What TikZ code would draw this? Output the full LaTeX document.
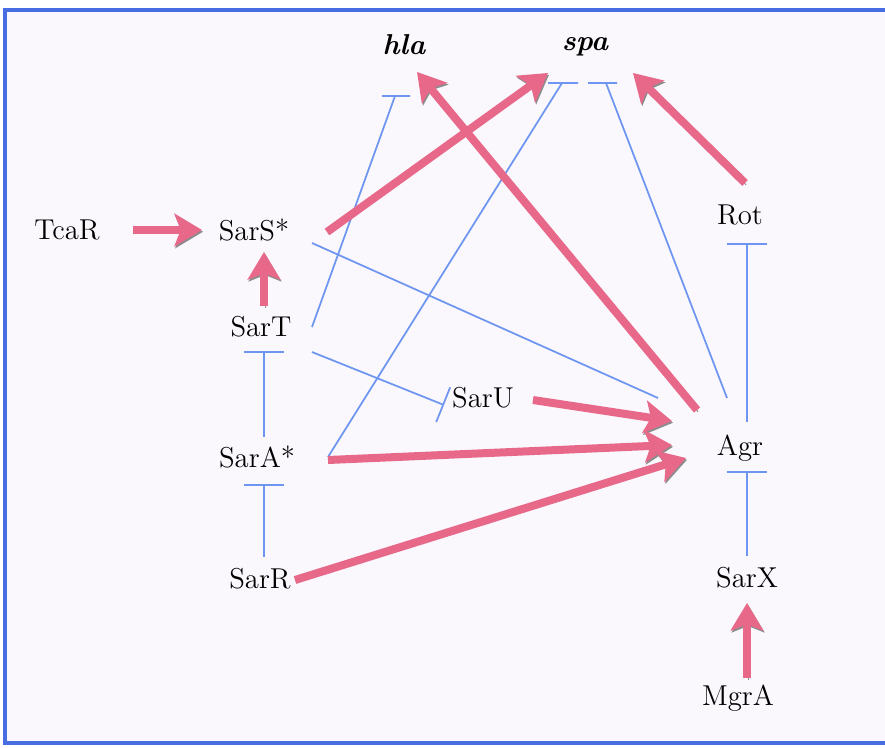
\documentclass[tikz,border=0pt]{standalone}
\usepackage{tikz}
\usetikzlibrary{arrows.meta}
\definecolor{actpink}{RGB}{232,104,138}
\definecolor{inhblue}{RGB}{110,150,240}
\definecolor{frameblue}{RGB}{72,108,225}
\definecolor{paper}{RGB}{250,248,253}

\begin{document}
\begin{tikzpicture}[
      x=0.4pt,y=-0.4pt,
      gene/.style={font=\fontsize{11.5}{13}\selectfont,inner sep=1pt},
      target/.style={font=\fontsize{11.5}{13}\selectfont\bfseries\itshape,inner sep=1pt},
      act/.style={line width=3.2pt,actpink,-{Stealth[length=11pt,width=13pt,inset=2.5pt]},
        preaction={draw=black!45,transform canvas={shift={(0.4pt,-0.7pt)}}}},
      inh/.style={line width=0.7pt,inhblue},
      inhbar/.style={inh,-{Bar[width=16pt]}}]
    \useasboundingbox (0,0) rectangle (885,747);
    \fill[paper] (5,10) rectangle (885,743);
    \draw[frameblue,line width=1.3pt] (885,10) -- (5,10) -- (5,743) -- (885,743);

    \node[target] (hla) at (404,45) {hla};
    \node[target] (spa) at (585,47) {spa};
    \node[gene] (TcaR) at (67,230) {TcaR};
    \node[gene] (SarS) at (254,230) {SarS*};
    \node[gene] (SarT) at (261,327) {SarT};
    \node[gene] (SarU) at (483,398) {SarU};
    \node[gene] (SarA) at (257,457) {SarA*};
    \node[gene] (SarR) at (260,579) {SarR};
    \node[gene] (Rot) at (740,215) {Rot};
    \node[gene] (Agr) at (740,448) {Agr};
    \node[gene] (SarX) at (747,578) {SarX};
    \node[gene] (MgrA) at (738,698) {MgrA};

    % repression
    \draw[inh] ([shift={(51,0)}]SarT.center) -- ([shift={(-9,51)}]hla.center) +(-13,0) -- +(15,0);
    \draw[inh] ([shift={(71,0)}]SarA.center) -- ([shift={(-23,36)}]spa.center) +(-14,0) -- +(16,0);
    \draw[inh] ([shift={(-13,-50)}]Agr.center) -- ([shift={(21,36)}]spa.center) +(-18,0) -- +(11,0);
    \draw[inh] ([shift={(58,13)}]SarS.center) -- ([shift={(-82,-50)}]Agr.center);
    \draw[inh,-{Bar[width=15pt]}] ([shift={(51,25)}]SarT.center) -- ([shift={(-39,7)}]SarU.center);
    \draw[inhbar] ([shift={(7,-20)}]SarA.center) -- ([shift={(3,24)}]SarT.center);
    \draw[inhbar] ([shift={(4,-22)}]SarR.center) -- ([shift={(7,27)}]SarA.center);
    \draw[inhbar] ([shift={(7,-26)}]Agr.center) -- ([shift={(7,28)}]Rot.center);
    \draw[inhbar] ([shift={(0,-22)}]SarX.center) -- ([shift={(7,23)}]Agr.center);

    % activation
    \draw[act] ([shift={(66,0)}]TcaR.center) -- ([shift={(-52,0)}]SarS.center);
    \draw[act] ([shift={(3,-21)}]SarT.center) -- ([shift={(10,22)}]SarS.center);
    \draw[act] ([shift={(73,2)}]SarS.center) -- ([shift={(-37,26)}]spa.center);
    \draw[act] ([shift={(5,-32)}]Rot.center) -- ([shift={(48,26)}]spa.center);
    \draw[act] ([shift={(50,2)}]SarU.center) -- ([shift={(-68,-27)}]Agr.center);
    \draw[act] ([shift={(71,3)}]SarA.center) -- ([shift={(-68,-3)}]Agr.center);
    \draw[act] ([shift={(35,1)}]SarR.center) -- ([shift={(-54,10)}]Agr.center);
    \draw[act] ([shift={(-43,-38)}]Agr.center) -- ([shift={(13,27)}]hla.center);
    \draw[act] ([shift={(9,-20)}]MgrA.center) -- ([shift={(0,25)}]SarX.center);
  \end{tikzpicture}
\end{document}
